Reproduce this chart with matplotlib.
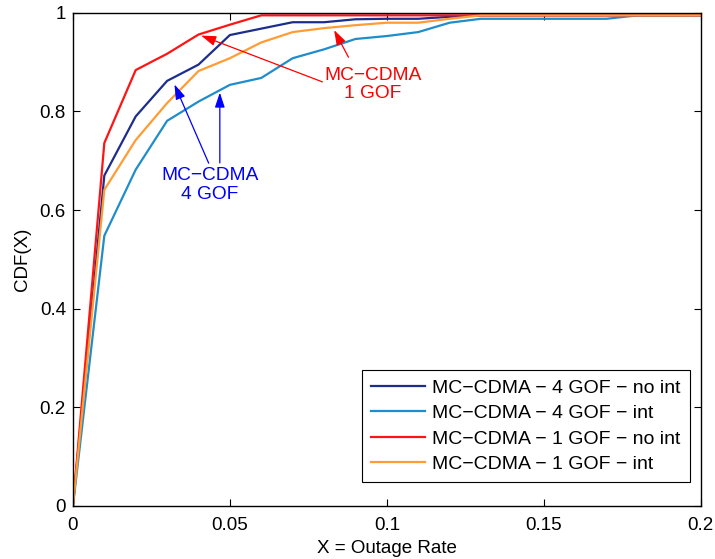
import matplotlib
matplotlib.use("Agg")
import matplotlib.pyplot as plt

plt.rcParams['font.family'] = ['Liberation Sans', 'DejaVu Sans']

outage = [0.00, 0.01, 0.02, 0.03, 0.04, 0.05, 0.06, 0.07, 0.08, 0.09, 0.10,
          0.11, 0.12, 0.13, 0.14, 0.15, 0.16, 0.17, 0.18, 0.19, 0.20]

cdf_4gof_noint = [0.0, 0.670, 0.790, 0.862, 0.895, 0.955, 0.968, 0.981, 0.981, 0.987, 0.988,
                  0.988, 0.992, 0.995, 0.995, 0.995, 0.995, 0.995, 0.995, 0.995, 0.995]
cdf_4gof_int = [0.0, 0.548, 0.682, 0.781, 0.820, 0.854, 0.868, 0.908, 0.926, 0.947, 0.953,
                0.961, 0.980, 0.988, 0.988, 0.988, 0.988, 0.988, 0.995, 0.995, 0.995]
cdf_1gof_noint = [0.0, 0.736, 0.884, 0.917, 0.956, 0.976, 0.995, 0.995, 0.995, 0.995, 0.995,
                  0.995, 0.995, 0.995, 0.995, 0.995, 0.995, 0.995, 0.995, 0.995, 0.995]
cdf_1gof_int = [0.0, 0.641, 0.742, 0.817, 0.882, 0.908, 0.940, 0.961, 0.969, 0.975, 0.980,
                0.980, 0.988, 0.995, 0.995, 0.995, 0.995, 0.995, 0.995, 0.995, 0.995]

series = [
    ("MC\u2212CDMA \u2212 4 GOF \u2212 no int", cdf_4gof_noint, "#1c2d8c"),
    ("MC\u2212CDMA \u2212 4 GOF \u2212 int", cdf_4gof_int, "#1f8dcb"),
    ("MC\u2212CDMA \u2212 1 GOF \u2212 no int", cdf_1gof_noint, "#ff1414"),
    ("MC\u2212CDMA \u2212 1 GOF \u2212 int", cdf_1gof_int, "#ff9c33"),
]

xticks = [0, 0.05, 0.1, 0.15, 0.2]
xticklabels = ["0", "0.05", "0.1", "0.15", "0.2"]
yticks = [0, 0.2, 0.4, 0.6, 0.8, 1.0]
yticklabels = ["0", "0.2", "0.4", "0.6", "0.8", "1"]

fig = plt.figure(figsize=(7.15, 5.59), dpi=100)
ax = fig.add_axes([0.102, 0.095, 0.878, 0.882])

for label, vals, color in series:
    ax.plot(outage, vals, color=color, lw=1.6, label=label)

ax.set_xlim(0, 0.2)
ax.set_ylim(0, 1)
ax.set_xticks(xticks)
ax.set_xticklabels(xticklabels)
ax.set_yticks(yticks)
ax.set_yticklabels(yticklabels)
ax.tick_params(direction='in', top=True, right=True, labelsize=13.5, length=5, width=0.8)
ax.tick_params(axis='x', pad=8)
ax.tick_params(axis='y', pad=5)
for sp in ax.spines.values():
    sp.set_linewidth(1.0)
ax.set_xlabel("X = Outage Rate", fontsize=13.5, labelpad=4)
ax.set_ylabel("CDF(X)", fontsize=13.5, labelpad=6)

# annotations for the 4 GOF curves
ax.text(0.0437, 0.651, "MC\u2212CDMA\n4 GOF", color='blue', fontsize=13.8,
        ha='center', va='center', linespacing=1.1)
blue_arrow = dict(arrowstyle='-|>,head_length=0.9,head_width=0.3', color='blue', lw=0.9)
ax.annotate('', xy=(0.0320, 0.860), xytext=(0.0436, 0.690), arrowprops=blue_arrow)
ax.annotate('', xy=(0.0468, 0.844), xytext=(0.0468, 0.690), arrowprops=blue_arrow)

# annotations for the 1 GOF curves
ax.text(0.0955, 0.855, "MC\u2212CDMA\n1 GOF", color='red', fontsize=13.8,
        ha='center', va='center', linespacing=1.1)
red_arrow = dict(arrowstyle='-|>,head_length=0.9,head_width=0.3', color='red', lw=0.9)
ax.annotate('', xy=(0.0828, 0.970), xytext=(0.0882, 0.905), arrowprops=red_arrow)
ax.annotate('', xy=(0.0400, 0.956), xytext=(0.0803, 0.858), arrowprops=red_arrow)

leg = ax.legend(loc='lower right', bbox_to_anchor=(0.9825, 0.049), fontsize=14,
                handlelength=2.75, labelspacing=0.4, borderpad=0.45, handletextpad=0.4,
                fancybox=False, framealpha=1, edgecolor='black', borderaxespad=0)
leg.get_frame().set_linewidth(0.8)

fig.savefig("out.png", dpi=100)
